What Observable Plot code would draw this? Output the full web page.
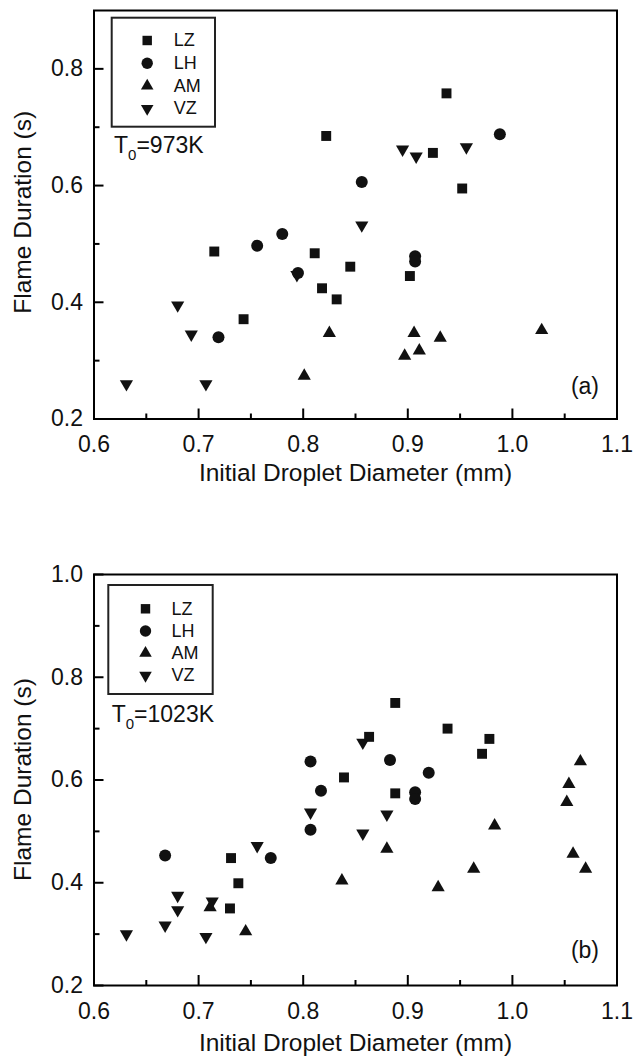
<!DOCTYPE html>
<html><head><meta charset="utf-8">
<script src="https://cdn.jsdelivr.net/npm/d3@7"></script>
<script src="https://cdn.jsdelivr.net/npm/@observablehq/plot@0.6"></script>
<style>
body{margin:0;background:#fff;}
#chart{width:633px;}
#chart svg{display:block;}
</style></head><body><div id="chart"></div>
<script>
// ---------- data ----------
const seriesNames = ["LZ", "LH", "AM", "VZ"];
const xTicks = [0.6, 0.7, 0.8, 0.9, 1.0, 1.1];
const xMinor = [0.65, 0.75, 0.85, 0.95, 1.05];
const xTitle = "Initial Droplet Diameter (mm)";
const yTitle = "Flame Duration (s)";

// Panel (a), T0 = 973 K : [diameter, duration]
const aLZ = [[0.715,0.487],[0.743,0.371],[0.811,0.484],[0.818,0.424],[0.822,0.685],[0.832,0.405],[0.845,0.461],[0.902,0.445],[0.924,0.656],[0.937,0.758],[0.952,0.595]];
const aLH = [[0.719,0.340],[0.756,0.497],[0.780,0.517],[0.795,0.450],[0.856,0.606],[0.907,0.479],[0.907,0.470],[0.988,0.688]];
const aAM = [[0.801,0.274],[0.825,0.347],[0.897,0.308],[0.906,0.347],[0.911,0.317],[0.931,0.339],[1.028,0.352]];
const aVZ = [[0.631,0.260],[0.680,0.395],[0.693,0.345],[0.707,0.260],[0.794,0.447],[0.856,0.532],[0.895,0.662],[0.908,0.650],[0.956,0.666]];
const aYTicks = [0.2, 0.4, 0.6, 0.8];
const aYMinor = [0.3, 0.5, 0.7];

// Panel (b), T0 = 1023 K
const bLZ = [[0.730,0.350],[0.731,0.448],[0.738,0.399],[0.839,0.605],[0.863,0.684],[0.888,0.750],[0.888,0.574],[0.938,0.700],[0.971,0.651],[0.978,0.680]];
const bLH = [[0.668,0.453],[0.769,0.448],[0.807,0.503],[0.807,0.636],[0.817,0.579],[0.883,0.639],[0.907,0.576],[0.907,0.563],[0.920,0.614]];
const bAM = [[0.711,0.352],[0.745,0.305],[0.837,0.404],[0.880,0.466],[0.929,0.391],[0.963,0.427],[0.983,0.511],[1.052,0.557],[1.054,0.592],[1.058,0.456],[1.065,0.636],[1.070,0.427]];
const bVZ = [[0.631,0.300],[0.668,0.317],[0.680,0.347],[0.680,0.375],[0.707,0.295],[0.713,0.364],[0.756,0.472],[0.807,0.537],[0.857,0.496],[0.857,0.673],[0.880,0.533]];
const bYTicks = [0.2, 0.4, 0.6, 0.8, 1.0];
const bYMinor = [0.3, 0.5, 0.7, 0.9];

// ---------- styling ----------
const FONT = "'Liberation Sans', Arial, Helvetica, sans-serif";
const INK = "#111";
const W = 633, H = 529, ML = 93.5, MR = 16.5;
const triDown = {
  draw(context, size) {
    const y = -Math.sqrt(size / (Math.sqrt(3) * 3));
    context.moveTo(0, -y * 2);
    context.lineTo(-Math.sqrt(3) * y, y);
    context.lineTo(Math.sqrt(3) * y, y);
    context.closePath();
  }
};
const symbols = {LZ: "square", LH: "circle", AM: "triangle", VZ: triDown};
const radii = {LZ: 5.6, LH: 6, AM: 4.9, VZ: 4.9};
const fmt = d3.format(".1f");

function panel(cfg) {
  const xDomain = [0.6, 1.1];
  const L = cfg.legend;
  const marks = [];
  marks.push(Plot.frame({stroke: "black", strokeWidth: 2}));
  // inward ticks (negative tick size)
  marks.push(Plot.axisX(xTicks, {tickSize: -10, tickFormat: () => "", stroke: "black", strokeWidth: 2}));
  marks.push(Plot.axisX(xMinor, {tickSize: -5, tickFormat: () => "", stroke: "black", strokeWidth: 2}));
  marks.push(Plot.axisY(cfg.yTicks, {tickSize: -10, tickFormat: () => "", stroke: "black", strokeWidth: 2}));
  marks.push(Plot.axisY(cfg.yMinor, {tickSize: -6, tickFormat: () => "", stroke: "black", strokeWidth: 2}));
  // tick labels
  marks.push(Plot.axisX(xTicks, {tickSize: 0, tickPadding: 17, tickFormat: fmt, fontSize: 23, fill: INK}));
  marks.push(Plot.axisY(cfg.yTicks, {tickSize: 0, tickPadding: 11, tickFormat: fmt, fontSize: 23, fill: INK}));
  // data points
  seriesNames.forEach((s) => {
    marks.push(Plot.dot(cfg.series[s], {x: d => d[0], y: d => d[1], symbol: symbols[s], r: radii[s], fill: INK, stroke: "none"}));
  });
  // x axis title
  marks.push(Plot.text([xTitle], {text: d => d, frameAnchor: "bottom", dy: cfg.xTitleDy, lineAnchor: "middle", fontSize: 24.5, fill: INK}));
  // panel letter
  marks.push(Plot.text([cfg.letter], {text: d => d, frameAnchor: "bottom-right", dx: -18, dy: cfg.letterDy, textAnchor: "end", lineAnchor: "middle", fontSize: 23, fill: INK}));
  // legend box, y title, temperature label
  marks.push((index, scales, values, dims) => {
    const g = d3.create("svg:g");
    const ox = dims.marginLeft, oy = dims.marginTop;
    g.append("rect").attr("x", ox + L.x0).attr("y", oy + L.y0)
      .attr("width", L.x1 - L.x0).attr("height", L.y1 - L.y0)
      .attr("fill", "none").attr("stroke", "#222").attr("stroke-width", 2);
    const t = g.append("text").attr("x", ox + cfg.tx).attr("y", oy + cfg.ty)
      .attr("text-anchor", "start")
      .attr("font-family", FONT).attr("font-size", 23).attr("fill", INK);
    t.append("tspan").text("T");
    t.append("tspan").attr("font-size", 15).attr("dy", 7).text("0");
    t.append("tspan").attr("dy", -7).text(cfg.tRest);
    const cy = oy + (dims.height - dims.marginTop - dims.marginBottom) / 2 + cfg.yTitleDy;
    g.append("text").attr("transform", `translate(22,${cy}) rotate(-90)`)
      .attr("text-anchor", "middle").attr("dy", "0.35em")
      .attr("font-family", FONT).attr("font-size", 24.5).attr("fill", INK)
      .text(yTitle);
    return g.node();
  });
  // legend entries
  seriesNames.forEach((s, i) => {
    marks.push(Plot.dot([s], {frameAnchor: "top-left", dx: L.sx, dy: L.row0 + i * L.step, symbol: symbols[s], r: radii[s] * 0.95, fill: INK, stroke: "none"}));
    marks.push(Plot.text([s], {text: d => d, frameAnchor: "top-left", dx: L.tx, dy: L.row0 + i * L.step, textAnchor: "start", lineAnchor: "middle", fontSize: 18, fill: INK}));
  });
  return Plot.plot({
    width: W, height: H,
    marginTop: cfg.mt, marginBottom: cfg.mb, marginLeft: ML, marginRight: MR,
    x: {domain: xDomain, label: null},
    y: {domain: cfg.yDomain, label: null},
    style: {fontFamily: FONT},
    marks
  });
}

const chart = document.getElementById("chart");
chart.append(panel({
  series: {LZ: aLZ, LH: aLH, AM: aAM, VZ: aVZ},
  yDomain: [0.2, 0.9], yTicks: aYTicks, yMinor: aYMinor,
  mt: 10, mb: 110.5,
  xTitleDy: 54, yTitleDy: -2, letter: "(a)", letterDy: -32,
  legend: {x0: 18.2, x1: 121.5, y0: 7.7, y1: 116.7, sx: 53.2, tx: 79.8, row0: 30, step: 22.7},
  tx: 20.5, ty: 143, tRest: "=973K"
}));
chart.append(panel({
  series: {LZ: bLZ, LH: bLH, AM: bAM, VZ: bVZ},
  yDomain: [0.2, 1.0], yTicks: bYTicks, yMinor: bYMinor,
  mt: 45, mb: 73,
  xTitleDy: 58, yTitleDy: 0, letter: "(b)", letterDy: -35,
  legend: {x0: 14.8, x1: 119.2, y0: 11, y1: 120, sx: 51.5, tx: 77.5, row0: 34.3, step: 22.2},
  tx: 18.2, ty: 147.5, tRest: "=1023K"
}));
</script>
</body></html>
